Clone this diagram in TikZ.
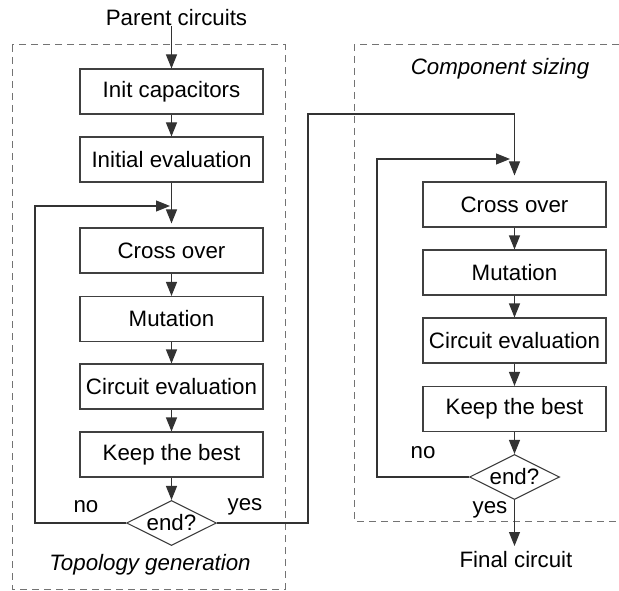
\documentclass[tikz,border=0pt]{standalone}
\usepackage{fontspec}
\setmainfont{Liberation Sans}
\usetikzlibrary{arrows.meta,shapes.geometric}
\begin{document}
\begin{tikzpicture}[x=1pt,y=-1pt,
  every node/.style={font=\fontsize{22.3}{26}\selectfont},
  procbox/.style={draw=black!75, line width=1.1pt, minimum width=183pt, minimum height=45pt, inner sep=0pt},
  decision/.style={draw=black!75, line width=1.1pt, diamond, aspect=2, minimum width=90pt, minimum height=45pt, inner sep=0pt},
  flow/.style={line width=1.1pt, draw=black!80, -{Triangle[length=14pt,width=11pt]}},
  frame/.style={draw=black!55, line width=1pt, dash pattern=on 7pt off 5pt},
  lbl/.style={inner sep=0pt},
]
\useasboundingbox (0,0) rectangle (619,591);

% frames
\draw[frame] (12,45) rectangle (285,589);
\draw[frame] (619,45) -- (354,45) -- (354,521) -- (619,521);

% left column
\node[lbl] (parent) at (176.5,18) {Parent circuits};
\node[procbox] (init) at (171.5,91.5) {Init capacitors};
\node[procbox] (ieval) at (171.5,159.5) {Initial evaluation};
\node[procbox] (cross1) at (171.5,250.5) {Cross over};
\node[procbox] (mut1) at (171.5,319) {Mutation};
\node[procbox] (ceval1) at (171.5,386.5) {Circuit evaluation};
\node[procbox] (keep1) at (171.5,454.5) {Keep the best};
\node[decision] (end1) at (171.5,523) {end?};
\node[lbl] (no1) at (86,507) {no};
\node[lbl] (yes1) at (245,507) {yes};
\node[lbl,font=\fontsize{22.3}{26}\selectfont\itshape] (topo) at (150,565) {Topology generation};

% right column
\node[lbl,font=\fontsize{22.3}{26}\selectfont\itshape] (comp) at (500,69) {Component sizing};
\node[procbox] (cross2) at (514.5,204.5) {Cross over};
\node[procbox] (mut2) at (514.5,272.5) {Mutation};
\node[procbox] (ceval2) at (514.5,340.5) {Circuit evaluation};
\node[procbox] (keep2) at (514.5,409) {Keep the best};
\node[decision] (end2) at (514.5,477) {end?};
\node[lbl] (no2) at (423,453) {no};
\node[lbl] (yes2) at (490,510) {yes};
\node[lbl] (final) at (516,560) {Final circuit};

% coordinates
\coordinate (l1) at (35,523);
\coordinate (l2) at (35,206);
\coordinate (l3) at (170,206);
\coordinate (y1) at (308,523);
\coordinate (y2) at (308,114);
\coordinate (y3) at (514.5,114);
\coordinate (r1) at (377,477);
\coordinate (r2) at (377,159);
\coordinate (r3) at (510,159);
\coordinate (fin) at (514.5,546);

% left flow
\draw[flow] (parent.south -| init.north) -- (init.north);
\draw[flow] (init) -- (ieval);
\draw[flow, shorten >=4pt] (ieval) -- (cross1);
\draw[flow] (cross1) -- (mut1);
\draw[flow] (mut1) -- (ceval1);
\draw[flow] (ceval1) -- (keep1);
\draw[flow] (keep1) -- (end1);
\draw[flow] (end1.west) -- (l1) -- (l2) -- (l3);

% transfer
\draw[flow, shorten >=6pt] (end1.east) -- (y1) -- (y2) -- (y3) -- (cross2.north);

% right flow
\draw[flow] (cross2) -- (mut2);
\draw[flow] (mut2) -- (ceval2);
\draw[flow] (ceval2) -- (keep2);
\draw[flow] (keep2) -- (end2);
\draw[flow] (end2.west) -- (r1) -- (r2) -- (r3);
\draw[flow] (end2.south) -- (fin);
\end{tikzpicture}
\end{document}
